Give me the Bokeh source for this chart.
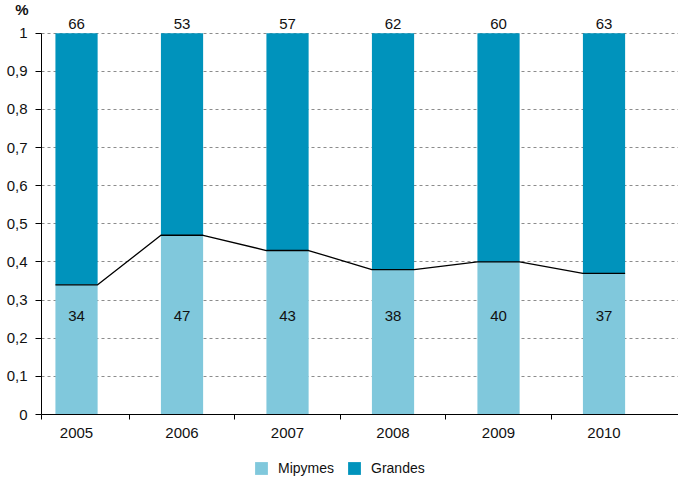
from bokeh.plotting import figure
from bokeh.layouts import column
from bokeh.models import (ColumnDataSource, Range1d, FixedTicker, Legend, LegendItem)
from bokeh.core.properties import value
from bokeh.embed import file_html
from bokeh.resources import INLINE

# Shares of firms by size, per year (percent)
years = ["2005", "2006", "2007", "2008", "2009", "2010"]
mipymes = [34, 47, 43, 38, 40, 37]
grandes = [66, 53, 57, 62, 60, 63]
y_tick_labels = ["0", "0,1", "0,2", "0,3", "0,4", "0,5", "0,6", "0,7", "0,8", "0,9", "1"]
series_names = ["Mipymes", "Grandes"]

LIGHT = "#80c8dc"
DARK = "#0093bc"
FONT = "Liberation Sans"
FS = "15px"
BAR_W = 0.4

xs = list(range(len(years)))
mip_frac = [v / 100 for v in mipymes]
gra_frac = [v / 100 for v in grandes]
top_frac = [a + b for a, b in zip(mip_frac, gra_frac)]

src = ColumnDataSource(dict(
    x=xs, mip=mip_frac, top=top_frac,
    mip_lbl=[str(v) for v in mipymes], gra_lbl=[str(v) for v in grandes],
))

p = figure(width=678, height=452, output_backend="svg", toolbar_location=None,
           x_range=Range1d(-0.332, 5.706), y_range=Range1d(0, 1.062),
           min_border_left=41, min_border_right=0, min_border_top=9,
           min_border_bottom=38)
p.outline_line_color = None
p.background_fill_color = "white"
p.border_fill_color = "white"

# grid: dashed horizontal lines only
p.xgrid.visible = False
p.ygrid.ticker = FixedTicker(ticks=[i / 10 for i in range(1, 11)])
p.ygrid.grid_line_color = "#8c8c8c"
p.ygrid.grid_line_dash = "3 3"
p.ygrid.grid_line_width = 1

# stacked bars
p.vbar(x="x", bottom=0, top="mip", width=BAR_W, source=src,
       fill_color=LIGHT, line_color=None)
p.vbar(x="x", bottom="mip", top="top", width=BAR_W, source=src,
       fill_color=DARK, line_color=None)

# step line along the top of the Mipymes segments
lx, ly = [], []
for x, v in zip(xs, mip_frac):
    lx += [x - BAR_W / 2, x + BAR_W / 2]
    ly += [v, v]
p.line(lx, ly, line_color="black", line_width=1.3)

# value labels
p.text(x="x", y=0.257, text="mip_lbl", source=src, text_align="center",
       text_baseline="middle", text_font=value(FONT), text_font_size=FS,
       text_color="#111111")
p.text(x="x", y=1.0, text="gra_lbl", source=src, text_align="center",
       text_baseline="bottom", y_offset=-4, text_font=value(FONT),
       text_font_size=FS, text_color="#111111")

# y axis, with the unit shown horizontally at its top end
yax = p.yaxis[0]
yax.ticker = FixedTicker(ticks=[i / 10 for i in range(11)])
yax.major_label_overrides = {i / 10: lbl for i, lbl in enumerate(y_tick_labels)}
yax.bounds = (0, 1)
yax.minor_tick_line_color = None
yax.major_tick_in = 0
yax.major_tick_out = 6
yax.major_label_standoff = 8
yax.axis_line_color = "black"
yax.major_tick_line_color = "black"
yax.major_label_text_font = FONT
yax.major_label_text_font_size = FS
yax.major_label_text_color = "#111111"
yax.axis_label = "%"
yax.axis_label_orientation = "horizontal"
yax.axis_label_align = "end"
yax.axis_label_standoff = -25
yax.axis_label_text_font = FONT
yax.axis_label_text_font_size = FS
yax.axis_label_text_font_style = "bold"
yax.axis_label_text_color = "#111111"

# x axis: labels at bar centres, tick marks between categories
xax = p.xaxis[0]
xax.ticker = FixedTicker(ticks=xs, minor_ticks=[-0.332] + [i + 0.5 for i in xs[:-1]])
xax.major_label_overrides = {i: y for i, y in zip(xs, years)}
xax.major_tick_line_color = None
xax.major_tick_out = 5
xax.minor_tick_in = 0
xax.minor_tick_out = 5
xax.minor_tick_line_color = "black"
xax.axis_line_color = "black"
xax.major_label_standoff = 8
xax.major_label_text_font = FONT
xax.major_label_text_font_size = FS
xax.major_label_text_color = "#111111"

# legend strip underneath the chart; zero-size bars only carry the swatch styles
leg = figure(width=678, height=24, output_backend="svg", toolbar_location=None,
             x_range=Range1d(0, 1), y_range=Range1d(0, 1),
             x_axis_type=None, y_axis_type=None,
             min_border_left=0, min_border_right=0, min_border_top=0,
             min_border_bottom=0)
leg.outline_line_color = None
leg.grid.visible = False
swatches = [leg.vbar(x=[0], bottom=[0], top=[0], width=0, fill_color=c, line_color=None)
            for c in (LIGHT, DARK)]
legend = Legend(items=[LegendItem(label=n, renderers=[r])
                       for n, r in zip(series_names, swatches)],
                orientation="horizontal", location=(212, 0),
                label_text_font=FONT, label_text_font_size="14px",
                label_text_color="#111111", glyph_width=16, glyph_height=16,
                spacing=12, label_standoff=9, border_line_color=None,
                background_fill_alpha=0, margin=0, padding=2)
leg.add_layout(legend, "center")

html = file_html(column(p, leg, spacing=0), INLINE)
# keep the page free of margins and scrollbars
html = html.replace("<head>", "<head><style>html, body {margin: 0; overflow: hidden;}</style>", 1)
open("out.html", "w").write(html)
